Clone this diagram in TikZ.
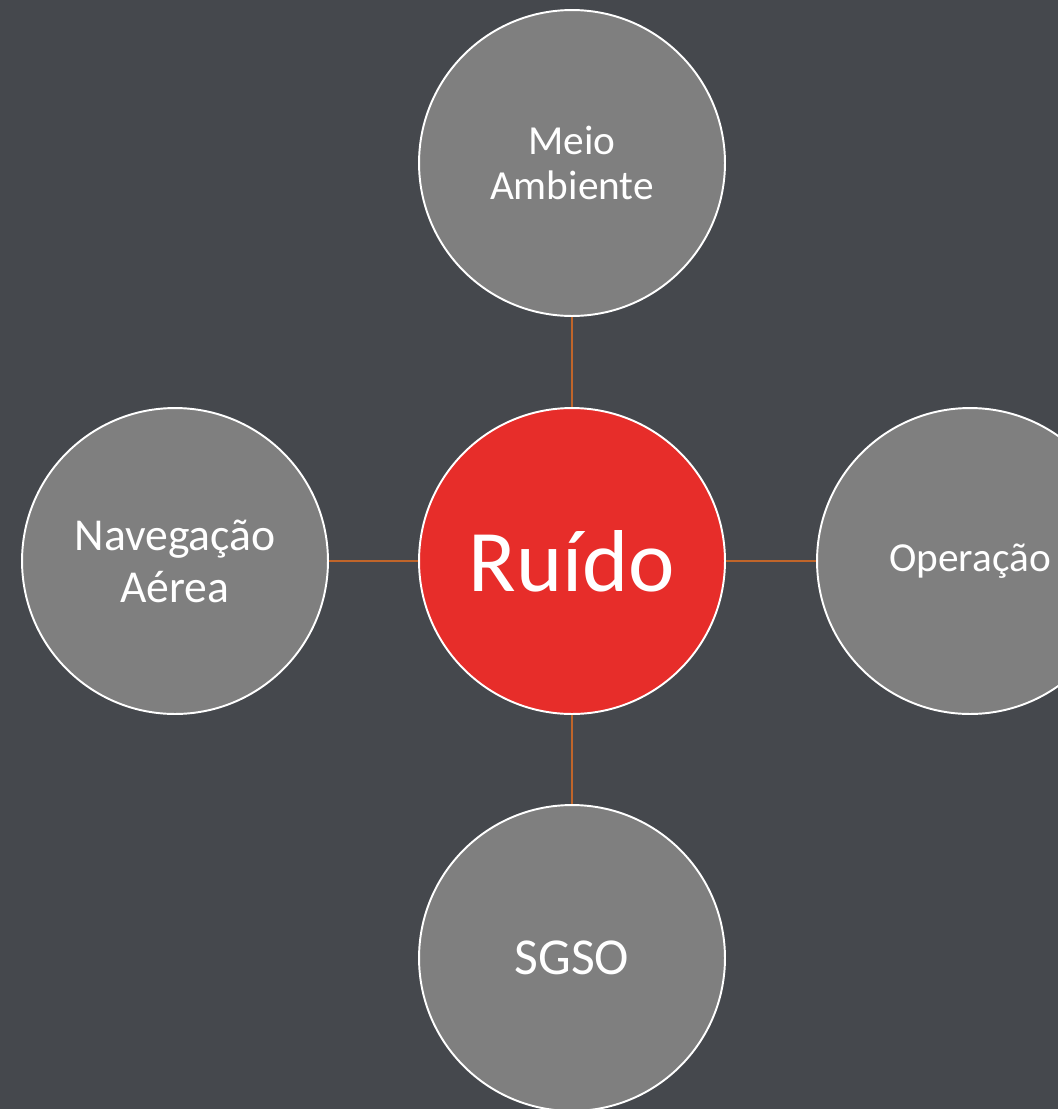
\documentclass[tikz,border=0pt]{standalone}
\usepackage{fontspec}
\setmainfont{Carlito}
\usepackage{tikz}
\usetikzlibrary{positioning}
\definecolor{bgslate}{HTML}{45484D}
\definecolor{bubblegray}{HTML}{7F7F7F}
\definecolor{noisered}{HTML}{E72D2A}
\definecolor{linkorange}{HTML}{C0652A}

\begin{document}
\begin{tikzpicture}[x=0.02cm,y=-0.02cm,
  bubble/.style={circle,minimum size=6.12cm,inner sep=0pt,fill=bubblegray,draw=white,line width=1.1pt,text=white,align=center},
  hub/.style={bubble,fill=noisered,font=\fontsize{50}{56}\selectfont},
  link/.style={linkorange,line width=0.9pt}]
  \clip (0,0) rectangle (1058,1109);
  \fill[bgslate] (0,0) rectangle (1058,1109);
  \node[hub] (ruido) at (572,561) {Ruído};
  \node[bubble,font=\fontsize{23.5}{25.5}\selectfont] (meio) at (572,163) {Meio\\Ambiente};
  \node[bubble,font=\fontsize{26}{29.5}\selectfont] (nav) at (175,561) {Navegação\\Aérea};
  \node[bubble,font=\fontsize{23.5}{28}\selectfont] (oper) at (970,561) {Operação};
  \node[bubble,font=\fontsize{29.5}{34}\selectfont] (sgso) at (572,958) {SGSO};
  \draw[link] (ruido) -- (meio);
  \draw[link] (ruido) -- (nav);
  \draw[link] (ruido) -- (oper);
  \draw[link] (ruido) -- (sgso);
\end{tikzpicture}
\end{document}
